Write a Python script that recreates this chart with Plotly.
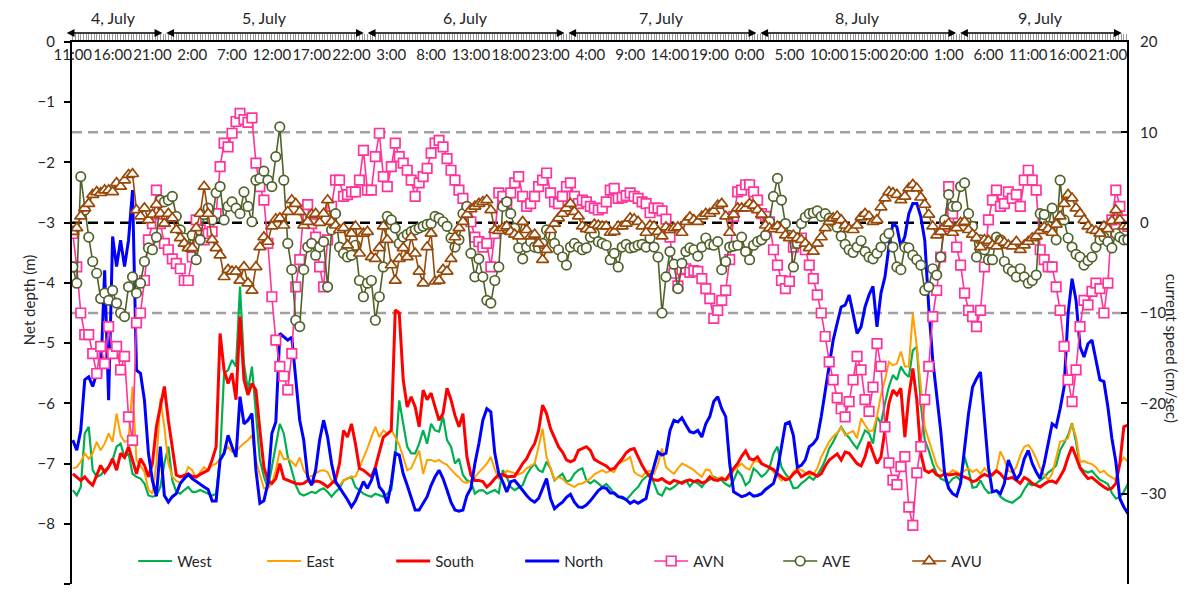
import plotly.graph_objects as go

# ---------------- data (30-min samples starting 4 July 11:00) ----------------
step_hours = 0.5

west = [
-7.44,-7.53,-7.39,-6.50,-6.39,-7.11,-7.22,-7.19,-7.11,-7.05,
-6.94,-6.72,-6.67,-6.89,-6.83,-7.17,-7.22,-7.25,-7.33,-7.53,
-7.55,-7.53,-7.39,-7.00,-6.72,-7.28,-7.47,-7.50,-7.44,-7.39,
-7.47,-7.47,-7.44,-7.47,-7.50,-7.53,-7.50,-6.89,-5.50,-5.45,
-5.28,-5.39,-4.06,-5.34,-5.78,-5.39,
-6.17,-6.94,-7.22,-7.41,-7.06,-6.67,-6.34,-6.50,-6.89,-7.11,
-7.36,-7.50,-7.53,-7.50,-7.47,-7.49,-7.44,-7.41,-7.47,-7.55,
-7.47,-7.41,-7.28,-7.25,-7.22,-7.39,-7.44,-7.50,-7.53,-7.55,
-7.50,-7.53,-7.55,-7.50,-7.44,-6.89,-5.95,-6.34,-6.72,-6.83,
-6.83,-6.67,-6.45,-6.67,-6.34,
-6.45,-6.47,-6.22,-6.61,-6.72,-7.00,-6.92,-7.19,-7.28,-7.30,
-7.50,-7.45,-7.44,-7.50,-7.47,-7.44,-7.49,-7.11,-7.22,-7.39,
-7.44,-7.40,-7.36,-7.19,-7.08,-7.00,-7.11,-7.14,-6.97,-7.08,
-7.28,-7.22,-7.17,-7.30,-7.28,-7.17,-7.11,-7.08,-7.28,-7.33,
-7.28,-7.33,-7.39,-7.34,-7.41,
-7.50,-7.55,-7.58,-7.60,-7.53,-7.45,-7.39,-7.28,-7.22,-7.17,
-7.33,-7.50,-7.53,-7.40,-7.43,-7.39,-7.33,-7.30,-7.28,-7.38,
-7.30,-7.33,-7.39,-7.30,-7.27,-7.22,-7.25,-7.28,-7.34,-7.38,
-7.28,-7.12,-7.20,-7.36,-7.30,-7.08,-7.14,-7.22,-7.17,-7.08,
-6.83,-6.72,-7.06,-7.17,-7.25,
-7.41,-7.40,-7.33,-7.28,-7.22,-7.27,-7.19,-7.08,-6.94,-6.75,
-6.64,-6.50,-6.39,-6.50,-6.57,-6.67,-6.75,-6.61,-6.45,-6.50,
-6.67,-6.22,-6.34,-6.00,-5.72,-5.53,-5.61,-5.39,-5.50,-5.56,
-5.12,-5.06,-6.00,-6.61,-6.78,-7.00,-7.17,-7.25,-7.28,-7.33,
-7.25,-7.22,-7.28,-6.89,-7.11,
-7.40,-7.39,-7.28,-7.41,-7.49,-7.47,-7.45,-7.55,-7.60,-7.63,
-7.65,-7.60,-7.55,-7.43,-7.33,-7.36,-7.33,-7.28,-7.23,-7.15,
-7.10,-7.03,-6.78,-6.66,-6.53,-6.33,-6.64,-7.06,-7.12,-7.15,
-7.12,-7.20,-7.27,-7.30,-7.34,-7.49,-7.58,-7.56,-7.47,-7.34]

east = [
-7.08,-7.06,-6.97,-6.83,-6.92,-6.83,-6.64,-6.78,-6.67,-6.50,
-6.64,-6.17,-6.53,-6.64,-6.61,-5.72,-6.94,-7.04,-7.14,-7.44,
-7.50,-7.00,-5.92,-6.39,-7.00,-7.22,-7.29,-7.32,-7.22,-7.06,
-7.11,-7.25,-7.14,-7.06,-7.11,-7.03,-7.00,-6.92,-6.81,-6.72,
-6.81,-6.81,-6.72,-6.67,-6.61,-6.53,
-6.94,-7.19,-7.41,-7.41,-7.33,-7.11,-6.78,-6.93,-6.92,-6.97,
-7.04,-6.90,-7.11,-7.21,-7.21,-7.17,-7.12,-7.11,-7.14,-7.28,
-7.34,-7.36,-7.28,-7.25,-7.22,-7.22,-7.06,-6.92,-6.75,-6.56,
-6.39,-6.56,-6.45,-6.50,-6.44,-6.56,-6.69,-6.89,-7.11,-7.08,
-6.94,-6.78,-7.17,-6.94,-6.94,
-6.97,-6.94,-6.99,-7.02,-7.10,-7.17,-7.23,-7.30,-7.32,-7.28,
-7.22,-7.15,-7.08,-7.00,-6.89,-7.10,-7.25,-7.22,-7.12,-7.14,
-7.17,-7.18,-7.15,-7.08,-7.04,-7.00,-6.72,-6.42,-6.89,-7.08,
-7.27,-7.23,-7.25,-7.32,-7.36,-7.39,-7.34,-7.33,-7.29,-7.25,
-7.18,-7.14,-7.11,-7.15,-7.12,
-7.14,-7.00,-6.97,-6.94,-6.89,-7.14,-7.19,-7.22,-7.14,-7.12,
-7.17,-7.00,-6.75,-7.06,-7.12,-7.17,-7.08,-7.00,-7.03,-7.07,
-7.11,-7.17,-7.22,-7.10,-7.11,-7.25,-7.25,-7.22,-7.27,-7.25,
-7.12,-7.06,-7.00,-7.07,-7.10,-6.97,-6.96,-7.00,-7.03,-7.06,
-7.14,-7.21,-7.28,-7.23,-7.25,
-7.14,-7.07,-7.11,-7.15,-7.19,-7.18,-7.08,-6.89,-6.77,-6.64,
-6.55,-6.49,-6.40,-6.53,-6.49,-6.46,-6.58,-6.25,-6.36,-6.46,
-6.45,-6.22,-5.86,-5.61,-5.31,-5.37,-5.34,-5.14,-5.39,-5.39,
-4.51,-5.06,-5.72,-6.39,-6.61,-6.83,-7.03,-7.11,-7.15,-7.17,
-7.11,-7.14,-7.17,-7.12,-7.08,
-7.14,-7.10,-7.17,-7.08,-7.15,-7.21,-7.11,-6.80,-6.94,-7.12,
-7.15,-7.06,-6.86,-6.72,-6.69,-6.78,-6.92,-7.08,-7.19,-7.27,
-7.17,-6.89,-6.64,-6.62,-6.58,-6.34,-6.56,-6.97,-6.96,-6.99,
-7.01,-7.06,-7.15,-7.12,-7.19,-7.23,-7.27,-7.00,-6.90,-6.97]

south = [
-7.17,-7.22,-7.28,-7.22,-7.30,-7.36,-7.19,-7.03,-7.15,-7.06,
-6.92,-7.11,-6.83,-6.90,-6.72,-6.94,-7.17,-6.92,-7.03,-7.22,
-7.00,-6.39,-6.06,-5.72,-6.28,-6.72,-7.19,-7.22,-7.19,-7.17,
-7.21,-7.22,-7.18,-7.15,-7.11,-6.94,-6.72,-4.84,-5.45,-5.67,
-5.50,-5.94,-4.56,-5.61,-5.86,-5.67,
-5.78,-6.45,-7.06,-7.28,-7.33,-7.25,-7.00,-7.25,-7.28,-7.30,
-7.33,-7.34,-7.33,-7.28,-7.33,-7.29,-7.30,-7.34,-7.39,-7.33,
-7.27,-7.00,-6.45,-6.56,-6.34,-6.67,-7.08,-7.11,-7.17,-7.22,
-7.06,-6.83,-6.56,-6.51,-6.45,-4.45,-4.50,-5.61,-6.06,-5.89,
-6.06,-6.39,-5.78,-5.94,-5.83,
-6.06,-6.28,-6.17,-5.75,-5.94,-6.20,-6.39,-6.17,-6.89,-7.19,
-7.28,-7.28,-7.30,-7.39,-7.33,-7.25,-7.19,-7.18,-7.22,-7.22,
-7.21,-7.11,-7.00,-6.92,-6.78,-6.67,-6.45,-6.03,-6.17,-6.42,
-6.56,-6.72,-6.81,-6.94,-6.97,-6.94,-6.78,-6.75,-6.72,-6.78,
-6.93,-6.97,-7.00,-7.04,-7.10,
-7.08,-7.00,-6.92,-6.82,-6.77,-6.75,-6.89,-7.03,-7.14,-7.22,
-7.27,-7.28,-7.25,-7.30,-7.33,-7.28,-7.30,-7.33,-7.29,-7.27,
-7.30,-7.28,-7.32,-7.30,-7.22,-7.27,-7.28,-7.25,-7.27,-7.17,
-7.08,-7.00,-6.88,-6.79,-6.92,-6.94,-6.89,-7.00,-7.03,-7.06,
-7.10,-7.17,-7.22,-7.27,-7.25,
-7.17,-7.12,-7.22,-7.18,-7.14,-7.17,-7.21,-7.17,-7.04,-6.94,
-6.89,-6.84,-6.94,-6.81,-6.83,-6.92,-7.00,-7.04,-6.89,-6.64,
-6.83,-7.00,-6.89,-6.47,-6.00,-5.78,-5.86,-5.75,-6.56,-5.89,
-5.42,-5.94,-6.83,-7.11,-7.15,-7.11,-7.19,-7.21,-7.17,-7.19,
-7.18,-7.17,-7.20,-7.22,-7.25,
-7.30,-7.28,-7.22,-7.18,-7.21,-7.18,-7.12,-7.17,-7.25,-7.25,
-7.23,-7.28,-7.33,-7.23,-7.27,-7.33,-7.36,-7.39,-7.34,-7.30,
-7.29,-7.32,-7.22,-7.10,-6.89,-6.72,-6.89,-7.07,-7.17,-7.25,
-7.23,-7.29,-7.34,-7.39,-7.43,-7.41,-7.33,-7.00,-6.39,-6.36]

north = [
-6.61,-6.78,-6.45,-5.61,-5.56,-5.72,-5.50,-5.56,-3.79,-5.95,
-3.23,-3.73,-3.29,-3.73,-3.29,-2.46,-5.45,-5.50,-5.95,-6.83,
-7.28,-7.54,-6.72,-7.53,-7.64,-7.55,-7.50,-7.33,-7.25,-7.18,
-7.25,-7.30,-7.34,-7.39,-7.43,-7.62,-7.62,-6.94,-6.83,-6.53,
-6.72,-6.89,-5.89,-6.34,-6.28,-6.17,
-7.11,-7.66,-7.62,-7.33,-6.50,-6.31,-4.84,-4.90,-4.95,-4.90,
-5.61,-6.28,-6.61,-7.22,-7.36,-7.11,-6.61,-6.28,-6.56,-7.00,
-7.30,-7.41,-7.50,-7.60,-7.72,-7.62,-7.47,-7.30,-7.41,-7.28,
-7.08,-7.39,-7.47,-7.66,-7.33,-6.83,-6.86,-7.17,-7.36,-7.55,
-7.77,-7.77,-7.66,-7.55,-7.36,
-7.22,-7.11,-7.25,-7.44,-7.64,-7.77,-7.79,-7.77,-7.53,-7.41,
-7.00,-6.67,-6.28,-6.09,-6.14,-6.83,-7.17,-7.30,-7.47,-7.30,
-7.28,-7.36,-7.45,-7.53,-7.60,-7.64,-7.58,-7.41,-7.25,-7.58,
-7.75,-7.69,-7.64,-7.56,-7.51,-7.64,-7.72,-7.73,-7.69,-7.62,
-7.53,-7.45,-7.40,-7.41,-7.49,
-7.49,-7.55,-7.56,-7.60,-7.66,-7.62,-7.66,-7.62,-7.58,-7.28,
-7.03,-6.81,-6.86,-6.83,-6.45,-6.28,-6.31,-6.24,-6.36,-6.47,
-6.49,-6.45,-6.56,-6.34,-6.22,-5.97,-5.89,-6.09,-6.22,-7.00,
-7.47,-7.51,-7.55,-7.53,-7.49,-7.54,-7.53,-7.50,-7.43,-7.38,
-7.33,-7.11,-6.69,-6.34,-6.31,
-6.53,-7.06,-7.03,-6.94,-6.72,-6.67,-6.58,-6.22,-5.78,-5.34,
-4.95,-4.67,-4.40,-4.37,-4.20,-4.51,-4.84,-4.73,-4.40,-4.20,
-4.06,-4.73,-4.17,-3.90,-3.40,-3.01,-3.07,-3.40,-3.23,-2.85,
-2.68,-2.68,-2.90,-3.29,-4.40,-5.28,-5.84,-6.45,-7.17,-7.41,
-7.50,-7.54,-7.33,-6.78,-6.17,
-5.73,-5.59,-5.48,-6.28,-7.06,-7.47,-7.45,-7.50,-7.33,-6.94,
-7.11,-7.27,-7.17,-6.92,-6.78,-7.00,-7.14,-7.25,-7.00,-6.67,
-6.34,-6.39,-6.09,-5.73,-4.51,-3.93,-4.29,-5.06,-5.23,-5.01,
-4.95,-5.28,-5.61,-5.64,-6.06,-6.58,-6.97,-7.58,-7.72,-7.83]

avn = [
-1.2,-4.9,-10.0,-12.4,-12.4,-14.5,-16.7,-13.7,-15.6,-11.5,
-14.5,-13.7,-16.3,-14.8,-21.5,-24.1,-11.1,-10.0,-6.4,-1.9,
-0.1,3.6,-0.1,-2.3,-3.0,-4.0,-4.5,-5.1,-6.4,-6.4,
-3.8,0.3,-0.8,-1.9,-1.2,-1.0,1.0,6.2,8.8,8.4,
9.9,11.2,12.1,11.4,11.1,11.6,
6.6,4.0,2.5,-2.3,-8.2,-13.0,-15.9,-17.0,-18.5,-14.5,
-7.1,-4.1,1.4,2.0,-0.1,-1.6,-4.9,-7.1,-1.9,1.8,
4.7,4.7,2.9,3.1,3.4,3.4,4.7,8.0,3.6,3.6,
7.3,9.9,5.1,4.0,6.2,8.8,7.3,6.6,5.8,4.7,
2.9,4.4,5.1,6.0,7.7,
8.8,9.1,8.4,7.1,5.8,4.7,3.6,2.7,1.4,0.1,
-1.6,-2.1,-2.7,-2.3,-4.9,-1.2,3.3,2.9,2.1,3.3,
4.4,5.1,2.9,1.8,2.1,2.9,4.0,4.7,5.5,3.3,
2.3,2.1,2.9,4.0,4.4,2.9,2.1,2.5,2.3,1.8,
1.6,1.4,1.6,2.3,3.6,
3.8,2.7,2.8,3.0,3.3,2.9,2.7,2.3,2.1,1.1,
1.6,1.6,1.3,0.4,-1.6,-5.6,-7.0,-5.2,-5.1,-5.5,
-5.3,-5.4,-6.2,-7.3,-8.4,-10.6,-9.7,-8.6,-7.5,-4.1,
0.7,3.4,3.6,4.2,4.2,3.4,2.5,1.0,0.7,0.1,
-3.0,-4.7,-6.4,-7.3,-6.5,
-2.7,-2.3,-1.7,-3.0,-4.7,-6.2,-8.0,-10.0,-12.6,-15.4,
-17.4,-19.4,-20.6,-21.5,-19.8,-17.4,-14.8,-16.3,-19.6,-20.9,
-18.2,-13.4,-15.9,-22.6,-26.6,-28.5,-29.0,-27.0,-25.9,-31.5,
-33.5,-27.7,-24.8,-19.6,-15.9,-10.4,-7.5,-3.8,-0.4,4.0,
1.0,-2.7,-4.7,-7.8,-9.7,
-10.4,-11.5,-9.7,-4.9,0.3,2.5,3.6,1.8,2.1,3.4,
2.7,3.1,1.8,4.7,5.8,4.7,3.6,-3.0,-4.1,-4.9,
-4.9,-7.1,-9.7,-13.7,-17.4,-19.8,-16.3,-11.5,-8.6,-9.1,
-7.6,-6.7,-7.3,-10.0,-6.7,0.3,3.6,1.8,0.3,-0.4]

ave = [
-4.9,-6.7,5.1,1.4,-1.6,-4.3,-5.6,-8.4,-7.8,-8.6,
-7.5,-8.9,-10.0,-10.4,-7.1,-6.0,-7.8,-6.7,-4.3,-2.8,
-3.0,-1.6,2.5,2.3,2.5,2.9,0.7,-0.8,-1.7,-2.7,
-1.4,-4.1,-1.9,0.9,1.6,0.3,3.3,4.0,0.3,1.8,
2.3,1.6,1.0,3.4,1.8,0.1,
4.7,4.9,5.7,4.7,4.0,7.3,10.6,4.7,-2.3,-5.2,
-10.8,-11.5,-5.2,-2.7,-2.3,-3.6,-2.7,-2.1,-7.1,-0.8,
1.0,-2.7,-3.4,-3.8,-3.6,-2.5,-6.4,-8.2,-6.7,-6.4,
-10.8,-8.2,-4.9,0.7,0.3,-0.6,-2.3,-1.6,-1.3,-1.0,
-0.8,-0.6,-0.4,-0.2,-0.1,
0.7,0.5,0.1,-0.4,-1.7,-2.7,-1.9,1.0,1.8,-3.4,
-6.0,-4.0,-6.0,-8.6,-8.9,-6.4,-4.9,1.8,2.3,1.0,
-0.6,-2.8,-4.0,-2.7,-2.1,-2.7,-2.8,-2.3,-0.8,-1.4,
-2.3,-3.0,-3.8,-4.7,-2.7,-2.3,-2.7,-3.0,-2.8,-1.6,
-1.2,-2.1,-2.3,-2.5,-4.1,
-3.4,-4.9,-2.7,-2.4,-2.8,-2.7,-2.5,-2.4,-2.7,-1.7,
-2.7,-3.8,-10.0,-6.0,-3.2,-4.6,-7.3,-4.5,-3.2,-2.8,
-3.0,-3.7,-2.7,-1.7,-2.4,-2.5,-2.1,-5.2,-4.3,-2.7,
-2.6,-2.5,-1.6,-3.2,-4.1,-2.5,-2.1,-1.9,-1.4,0.1,
2.9,4.9,2.5,-0.1,-1.4,
-4.9,-2.3,-0.1,0.6,1.0,1.1,1.3,0.7,1.0,0.5,
0.1,-0.5,-1.5,-2.4,-3.0,-3.3,-2.7,-2.0,-3.2,-3.8,
-4.0,-3.4,-2.7,-1.7,-1.2,-2.7,-4.9,-5.2,-2.7,-2.8,
-3.6,-4.1,-4.7,-7.5,-7.1,-5.1,-5.8,-3.8,0.3,3.1,
1.8,1.8,4.0,4.4,1.0,
-0.4,-3.8,-1.9,-3.0,-4.1,-4.1,-1.6,-1.9,-4.3,-5.1,
-5.4,-6.0,-5.1,-6.0,-6.7,-6.4,-5.8,1.0,0.9,-0.4,
1.6,-1.9,4.7,0.3,-1.7,-2.7,-3.5,-3.8,-4.7,-4.2,
-3.8,-2.7,-1.9,-1.6,-2.1,-2.8,-1.2,-1.6,-1.9,-1.9]

avu = [
-1.0,-0.6,0.7,1.6,2.1,3.1,3.4,3.3,3.6,3.6,
3.4,4.4,4.0,4.7,5.3,5.4,1.4,0.7,1.6,0.3,
0.9,2.0,1.0,-0.1,1.0,0.5,-0.8,-1.7,-2.3,-2.8,
-2.8,-0.6,1.0,4.0,1.0,-1.9,-2.8,-3.6,-6.0,-5.2,
-5.4,-5.4,-6.4,-4.9,-6.7,-7.5,
-4.9,-2.7,-1.6,-2.1,-0.4,0.4,0.5,-0.3,1.2,2.5,
2.1,1.2,-0.3,0.1,0.9,1.0,0.0,1.0,2.5,0.1,
-0.3,-0.8,-0.6,-2.5,-1.2,-0.4,-3.4,-1.2,-1.0,-3.8,
-4.0,-2.8,-0.4,-1.9,-4.7,-6.4,-4.0,-2.8,-3.8,-1.6,
-3.4,-5.4,-6.7,-2.7,-1.2,
-6.5,-6.4,-5.2,-5.4,-4.0,-1.6,-0.6,0.1,0.9,1.5,
1.8,2.1,2.3,2.5,1.4,-0.8,-0.9,-0.6,-0.4,-1.0,
-1.3,-1.5,0.1,-0.8,-1.5,-1.3,-2.3,-4.1,-3.0,-0.8,
-0.1,0.5,1.0,1.6,2.1,1.2,0.7,-0.4,-0.7,-0.8,
-0.2,-0.3,-0.4,-0.4,-1.1,
-1.0,-0.4,-0.4,-0.1,0.5,0.4,0.1,-0.4,-1.1,-0.3,
-0.4,-1.0,-1.5,-0.5,-0.8,-0.6,-0.5,-1.1,0.1,0.6,
0.3,0.1,0.7,1.0,1.0,1.3,1.9,2.1,0.7,-1.1,
0.9,1.6,1.6,1.6,2.1,1.9,1.4,0.9,-0.3,-0.6,
-0.7,-0.4,-0.8,-1.4,-1.7,
-1.4,-1.7,-1.9,-2.3,-2.8,-3.2,-2.3,-1.6,-0.6,0.1,
0.5,0.7,0.3,-0.3,-0.7,-0.8,-0.3,0.6,1.0,0.7,
0.1,0.3,1.7,2.7,3.4,3.3,3.1,2.5,2.9,3.8,
4.2,3.8,2.8,2.0,0.9,-0.4,-1.4,-1.0,-0.4,-0.1,
-1.1,-0.6,0.0,0.1,-0.8,
-1.3,-1.7,-2.7,-1.9,-2.0,-2.5,-2.6,-2.0,-2.2,-2.5,
-2.6,-2.1,-3.0,-2.5,-2.1,-1.7,-1.5,-0.9,-0.5,-0.7,
-1.1,-0.2,0.7,2.1,3.1,2.7,1.6,1.0,0.3,-0.4,
-0.8,-0.9,-1.2,-0.4,-0.7,0.2,1.4,0.3,-0.4,-0.4]

tick_hours = list(range(0, 131, 5))
tick_text = ["11:00", "16:00", "21:00", "2:00", "7:00", "12:00", "17:00", "22:00",
             "3:00", "8:00", "13:00", "18:00", "23:00", "4:00", "9:00", "14:00",
             "19:00", "0:00", "5:00", "10:00", "15:00", "20:00", "1:00", "6:00",
             "11:00", "16:00", "21:00"]
day_names = ["4, July", "5, July", "6, July", "7, July", "8, July", "9, July"]
day_bounds = [-1.1, 11.4, 36.7, 61.9, 86.0, 111.1, 131.9]
ref_levels = [10, 0, -10]

n = len(west)
for s in (east, south, north, avn, ave, avu):
    assert len(s) == n, len(s)
hours = [i * step_hours for i in range(n)]

FONT = "Lato, 'Open Sans', sans-serif"
TXT = "#262626"

fig = go.Figure()

line_series = [("West", west, "#00B050", 2.2),
               ("East", east, "#FFA000", 2.0),
               ("South", south, "#FF0000", 3.0),
               ("North", north, "#0000FF", 3.0)]
for name, vals, col, w in line_series:
    fig.add_trace(go.Scatter(x=hours, y=vals, name=name, mode="lines",
                             line=dict(color=col, width=w), yaxis="y"))

marker_series = [("AVN", avn, "#FF3399", "square", 9.5),
                 ("AVE", ave, "#4F6228", "circle", 9.5),
                 ("AVU", avu, "#984807", "triangle-up", 10.5)]
for name, vals, col, sym, sz in marker_series:
    fig.add_trace(go.Scatter(x=hours, y=vals, name=name, mode="lines+markers",
                             line=dict(color=col, width=1.6),
                             marker=dict(symbol=sym, size=sz, color="white",
                                         line=dict(color=col, width=1.7)),
                             yaxis="y2"))

shapes = []
for lv in ref_levels:
    shapes.append(dict(type="line", xref="paper", x0=0, x1=1, yref="y2", y0=lv, y1=lv,
                       layer="below",
                       line=dict(color="black" if lv == 0 else "#A0A0A0", width=2.5,
                                 dash="10px,6px")))

annotations = []
for i, name in enumerate(day_names):
    a, b = day_bounds[i] + 0.15, day_bounds[i + 1] - 0.15
    annotations.append(dict(x=b, y=1.0166, xref="x", yref="paper",
                            ax=a, ay=0, axref="x", ayref="pixel",
                            text="", showarrow=True, arrowhead=2, arrowside="end+start",
                            arrowsize=1.2, arrowwidth=1.3, arrowcolor="black",
                            standoff=0, startstandoff=0))
    annotations.append(dict(x=(day_bounds[i] + day_bounds[i + 1]) / 2, y=1.046,
                            xref="x", yref="paper", yanchor="middle", xanchor="center",
                            text=name, showarrow=False,
                            font=dict(size=16, color=TXT, family=FONT)))

annotations.append(dict(x=-0.051, y=0.524, xref="paper", yref="paper", text="Net depth (m)",
                        textangle=-90, showarrow=False, font=dict(size=15, color=TXT, family=FONT)))
annotations.append(dict(x=1.053, y=0.434, xref="paper", yref="paper",
                        text="current speed (cm/sec)", textangle=90, showarrow=False,
                        font=dict(size=15, color=TXT, family=FONT)))

fig.update_layout(
    width=1199, height=592, autosize=False,
    margin=dict(l=72, r=72, t=42, b=8),
    paper_bgcolor="white", plot_bgcolor="white",
    font=dict(family=FONT, size=14, color=TXT),
    showlegend=True,
    legend=dict(orientation="h", x=0.058, y=0.042, xanchor="left", yanchor="middle",
                bgcolor="rgba(0,0,0,0)", font=dict(size=15, color=TXT, family=FONT),
                entrywidth=80, entrywidthmode="pixels", itemwidth=34,
                traceorder="normal"),
    xaxis=dict(side="top", range=[-0.1, 132.4], showgrid=False, zeroline=False,
               showline=True, linecolor="black", linewidth=1.5,
               tickmode="array", tickvals=tick_hours, ticktext=tick_text,
               tickangle=0,
               ticks="outside", ticklen=6, tickcolor="#999999", tickwidth=1,
               ticklabelposition="inside", ticklabeloverflow="allow",
               ticklabelstandoff=8,
               tickfont=dict(size=15, color=TXT, family=FONT),
               minor=dict(ticks="outside", dtick=1 / 3, tick0=0, ticklen=6,
                          tickcolor="#999999", tickwidth=1, showgrid=False)),
    yaxis=dict(range=[-9, 0], dtick=1, tick0=0, showgrid=False, zeroline=False,
               showline=True, linecolor="black", linewidth=2,
               ticks="outside", ticklen=6, tickcolor="black", tickwidth=1.5,
               tickfont=dict(size=15, color=TXT, family=FONT), ticklabelstandoff=6),
    yaxis2=dict(range=[-40, 20], dtick=10, tick0=0, overlaying="y", side="right",
                showgrid=False, zeroline=False, showline=True, linecolor="black",
                linewidth=2, ticks="inside", ticklen=6, tickcolor="black", tickwidth=1.5,
                tickfont=dict(size=15, color=TXT, family=FONT), ticklabelstandoff=8),
    shapes=shapes,
    annotations=annotations,
)

fig.write_html("out.html")
